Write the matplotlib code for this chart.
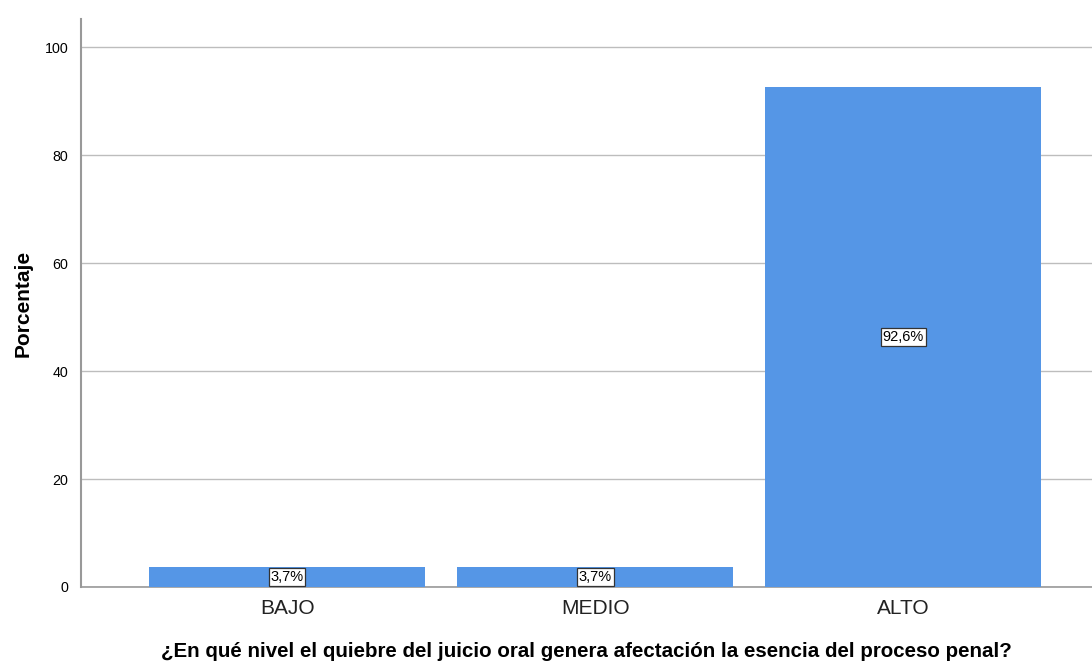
import matplotlib
matplotlib.use("Agg")
import matplotlib.pyplot as plt

categories = ["BAJO", "MEDIO", "ALTO"]
values = [3.7, 3.7, 92.6]
labels = ["3,7%", "3,7%", "92,6%"]
yticks = [0, 20, 40, 60, 80, 100]

plt.rcParams['font.family'] = ['Liberation Sans', 'DejaVu Sans']

fig = plt.figure(figsize=(10.92, 6.62), dpi=100)
ax = fig.add_axes([81/1092, 1-587/662, 1-81/1092, (587-19)/662])

x = list(range(len(categories)))
ax.bar(x, values, width=0.896, color="#5596E6", edgecolor="none", zorder=3)
for xi, v, lab in zip(x, values, labels):
    ax.text(xi, v/2, lab, ha="center", va="center", fontsize=10.5, zorder=4,
            bbox=dict(boxstyle="square,pad=0.12", fc="white", ec="#333333", lw=0.9))

ax.set_xlim(-0.669, 2.612)
ax.set_ylim(0, 105.2)
ax.set_yticks(yticks)
ax.set_yticklabels([str(t) for t in yticks], fontsize=10.3)
ax.set_xticks(x)
ax.set_xticklabels(categories, fontsize=15, color="#222222")
ax.tick_params(axis="x", length=0, pad=9)
ax.tick_params(axis="y", length=0, pad=9)
ax.yaxis.grid(True, color="#bdbdbd", lw=1, zorder=0)
for s in ["top", "right"]:
    ax.spines[s].set_visible(False)
ax.spines["left"].set_color("#999999")
ax.spines["bottom"].set_color("#999999")
ax.spines["left"].set_linewidth(1.5)
ax.spines["bottom"].set_linewidth(1.2)

ax.set_ylabel("Porcentaje", fontsize=15, fontweight="bold", labelpad=9)
ax.set_xlabel("¿En qué nivel el quiebre del juicio oral genera afectación la esencia del proceso penal?",
              fontsize=14.8, fontweight="bold", labelpad=17)

fig.savefig("out.png", dpi=100)
